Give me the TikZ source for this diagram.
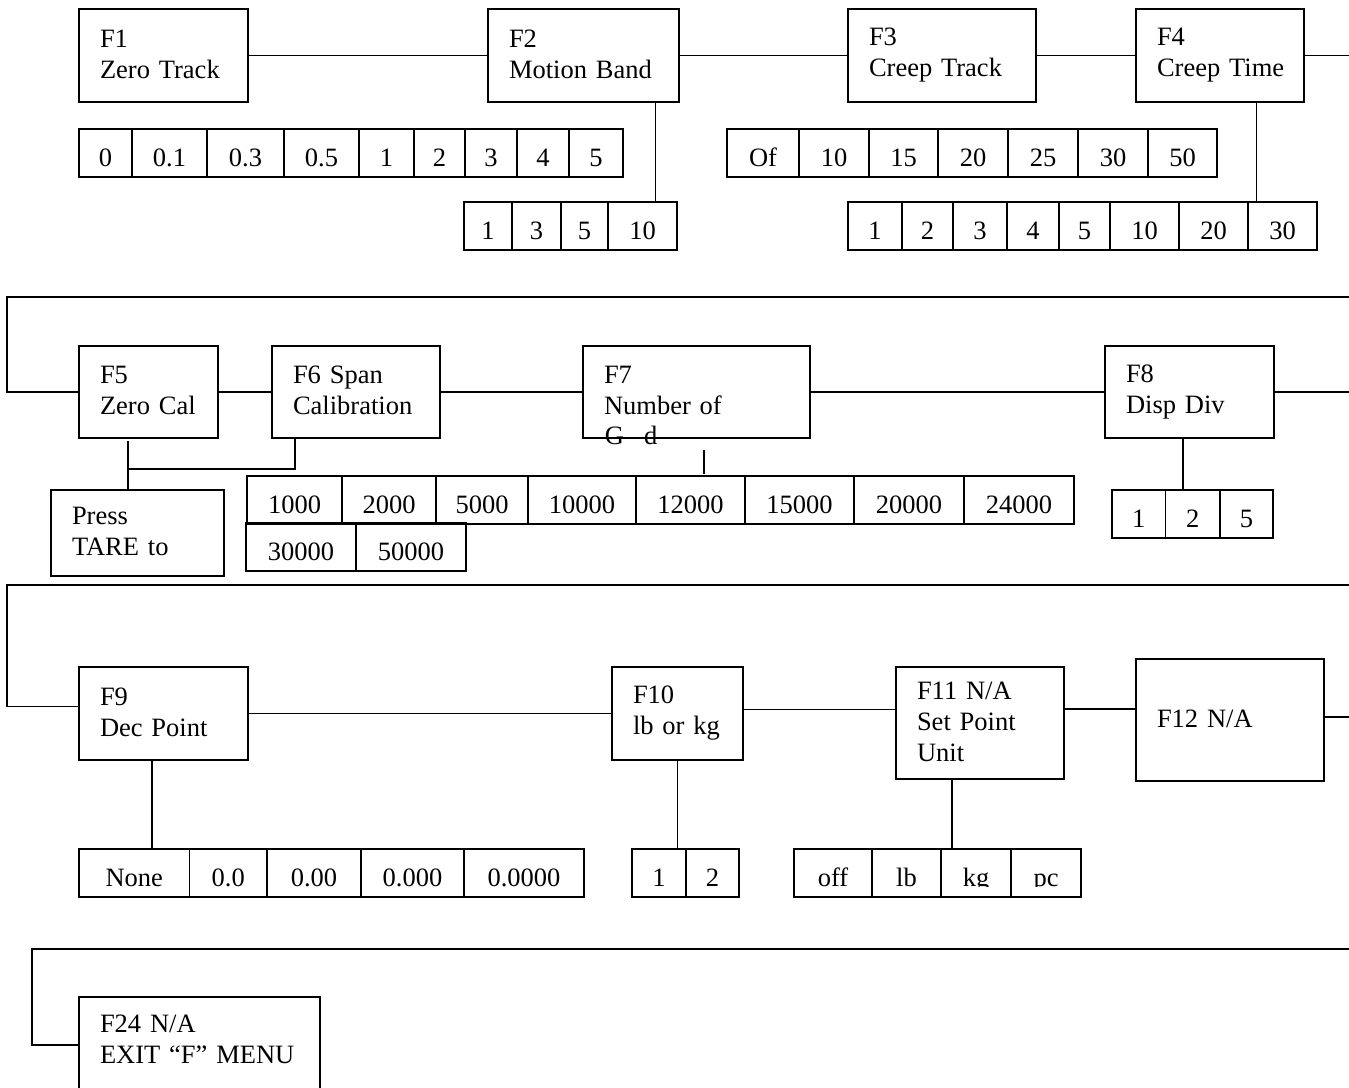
\documentclass[tikz,border=0pt]{standalone}
\usepackage{fontspec}
\setmainfont{Liberation Serif}
\usetikzlibrary{positioning}
\newcommand{\menufont}{\fontsize{26.5}{31}\selectfont}

\begin{document}
\begin{tikzpicture}[
  x=1pt,y=-1pt,
  font=\menufont,
  node distance=0pt,
  line width=1.8pt,
  menubox/.style 2 args={draw,outer sep=0pt,inner xsep=21pt,align=left,
              anchor=north west,text width=#1,minimum height=#2,
              execute at end node={\rule[-3pt]{0pt}{3pt}}},
  optcell/.style={draw,outer sep=0pt,inner sep=0pt,minimum width=#1,
              minimum height=48pt,text height=26pt,text depth=0pt}
]
  \useasboundingbox (0,0) rectangle (1349,1087);
  \clip (0,0) rectangle (1349,1087);

  \node[menubox={127pt}{93pt}] (f1) at (79,9) {F1\\Zero~Track};
  \node[menubox={149pt}{93pt}] (f2) at (488,9) {F2\\Motion~Band};
  \node[menubox={146pt}{93pt}] (f3) at (848,9) {F3\\Creep~Track};
  \node[menubox={126pt}{93pt}] (f4) at (1136,9) {F4\\Creep~Time};
  \coordinate (r1) at (1349,56);

  \node[optcell=53pt,anchor=north west] (zt1) at (79,129) {0};
  \node[optcell=75pt,right=of zt1] (zt2) {0.1};
  \node[optcell=77pt,right=of zt2] (zt3) {0.3};
  \node[optcell=75pt,right=of zt3] (zt4) {0.5};
  \node[optcell=55pt,right=of zt4] (zt5) {1};
  \node[optcell=51pt,right=of zt5] (zt6) {2};
  \node[optcell=52pt,right=of zt6] (zt7) {3};
  \node[optcell=52pt,right=of zt7] (zt8) {4};
  \node[optcell=54pt,right=of zt8] (zt9) {5};

  \node[optcell=48pt,anchor=north west] (mb1) at (464,202) {1};
  \node[optcell=49pt,right=of mb1] (mb2) {3};
  \node[optcell=47pt,right=of mb2] (mb3) {5};
  \node[optcell=69pt,right=of mb3] (mb4) {10};

  \node[optcell=72pt,anchor=north west] (ct1) at (727,129) {Of};
  \node[optcell=70pt,right=of ct1] (ct2) {10};
  \node[optcell=69pt,right=of ct2] (ct3) {15};
  \node[optcell=70pt,right=of ct3] (ct4) {20};
  \node[optcell=70pt,right=of ct4] (ct5) {25};
  \node[optcell=70pt,right=of ct5] (ct6) {30};
  \node[optcell=69pt,right=of ct6] (ct7) {50};

  \node[optcell=54pt,anchor=north west] (tm1) at (848,202) {1};
  \node[optcell=51pt,right=of tm1] (tm2) {2};
  \node[optcell=54pt,right=of tm2] (tm3) {3};
  \node[optcell=52pt,right=of tm3] (tm4) {4};
  \node[optcell=51pt,right=of tm4] (tm5) {5};
  \node[optcell=69pt,right=of tm5] (tm6) {10};
  \node[optcell=69pt,right=of tm6] (tm7) {20};
  \node[optcell=69pt,right=of tm7] (tm8) {30};

  \draw (f1) -- (f2);
  \draw (f2) -- (f3);
  \draw (f3) -- (f4);
  \draw (f4.east) -- (f4.east -| r1);
  \draw ([xshift=13pt]mb4.north) -- ([xshift=13pt]mb4.north |- f2.south);
  \draw ([xshift=-26pt]tm8.north) -- ([xshift=-26pt]tm8.north |- f4.south);

  \coordinate (l2) at (7,297);
  \coordinate (r2) at (1349,297);
  \node[menubox={97pt}{92pt}] (f5) at (79,346) {F5\\Zero~Cal};
  \node[menubox={126pt}{92pt}] (f6) at (272,346) {F6~Span\\Calibration};
  \node[menubox={185pt}{92pt}] (f7) at (583,346) {F7\\Number~of};
  \node[anchor=base west,inner sep=0pt] (f7g) at (604,444) {G\hspace{20pt}d};
  \node[menubox={127pt}{92pt}] (f8) at (1105,346) {F8\\Disp~Div};
  \node[menubox={131pt}{86pt}] (press) at (51,490) {Press\\TARE~to};

  \node[optcell=95pt,anchor=north west] (sc1) at (247,476) {1000};
  \node[optcell=94pt,right=of sc1] (sc2) {2000};
  \node[optcell=92pt,right=of sc2] (sc3) {5000};
  \node[optcell=108pt,right=of sc3] (sc4) {10000};
  \node[optcell=109pt,right=of sc4] (sc5) {12000};
  \node[optcell=109pt,right=of sc5] (sc6) {15000};
  \node[optcell=110pt,right=of sc6] (sc7) {20000};
  \node[optcell=110pt,right=of sc7] (sc8) {24000};
  \node[optcell=110pt,anchor=north west] (sc9) at (246,523) {30000};
  \node[optcell=110pt,right=of sc9] (sc10) {50000};

  \node[optcell=53.5pt,anchor=north west] (dv1) at (1112,490) {1};
  \node[optcell=54.5pt,right=of dv1] (dv2) {2};
  \node[optcell=53pt,right=of dv2] (dv3) {5};

  \draw (r2) -- (l2) |- (f5);
  \draw (f5) -- (f6);
  \draw (f6) -- (f7);
  \draw (f7) -- (f8);
  \draw (f8.east) -- (f8.east -| r2);
  \coordinate (j56) at (128,469);
  \draw ([yshift=-3pt]f5.south -| j56) -- (press.north -| j56);
  \draw ([xshift=-61pt]f6.south) |- (j56);
  \coordinate (t7a) at (704,450);
  \coordinate (t7b) at (704,474);
  \draw (t7a) -- (t7b);
  \draw ([xshift=-10pt]dv2.north) -- ([xshift=-10pt]dv2.north |- f8.south);

  \coordinate (l3) at (7,585);
  \coordinate (r3) at (1349,585);
  \node[menubox={127pt}{93pt}] (f9) at (79,667) {F9\\Dec~Point};
  \node[menubox={89pt}{93pt}] (f10) at (612,667) {F10\\lb~or~kg};
  \node[menubox={126pt}{112pt}] (f11) at (896,667) {F11~N/A\\Set~Point\\Unit};
  \node[menubox={146pt}{122pt}] (f12) at (1136,659) {F12~N/A};

  \node[optcell=110.5pt,anchor=north west] (dp1) at (79,849) {None};
  \node[optcell=77.5pt,right=of dp1] (dp2) {0.0};
  \node[optcell=94pt,right=of dp2] (dp3) {0.00};
  \node[optcell=103pt,right=of dp3] (dp4) {0.000};
  \node[optcell=120pt,right=of dp4] (dp5) {0.0000};

  \node[optcell=54pt,anchor=north west] (lk1) at (632,849) {1};
  \node[optcell=53pt,right=of lk1] (lk2) {2};

  \node[optcell=78pt,anchor=north west] (sp1) at (794,849) {off};
  \node[optcell=69pt,right=of sp1] (sp2) {lb};
  \node[optcell=70pt,right=of sp2] (sp3) {kg};
  \node[optcell=70pt,right=of sp3] (sp4) {pc};
  \fill[white] ([xshift=1pt,yshift=1pt]sp3.south west) rectangle ([xshift=-1pt,yshift=10.5pt]sp3.south east);
  \fill[white] ([xshift=1pt,yshift=1pt]sp4.south west) rectangle ([xshift=-1pt,yshift=10.5pt]sp4.south east);

  \draw (r3) -- (l3) |- ([yshift=7pt]f9.west);
  \draw (f9) -- (f10);
  \draw ([yshift=4pt]f10.east) -- ([yshift=4pt]f10.east -| f11.west);
  \draw ([yshift=14pt]f11.east) -- ([yshift=14pt]f11.east -| f12.west);
  \draw ([yshift=3pt]f12.east) -- ([yshift=3pt]f12.east -| r3);
  \draw ([xshift=18pt]dp1.north) -- ([xshift=18pt]dp1.north |- f9.south);
  \draw (f10.south) -- (f10.south |- lk1.north);
  \draw ([xshift=-24pt]sp3.north) -- ([xshift=-24pt]sp3.north |- f11.south);

  \coordinate (l4) at (32,949);
  \coordinate (r4) at (1349,949);
  \node[menubox={199pt}{0pt},inner ysep=18pt,text depth=100pt] (f24) at (79,997) {F24~N/A\\EXIT~“F”~MENU};
  \draw (r4) -- (l4) |- ([yshift=-48pt]f24.north west);
\end{tikzpicture}
\end{document}
